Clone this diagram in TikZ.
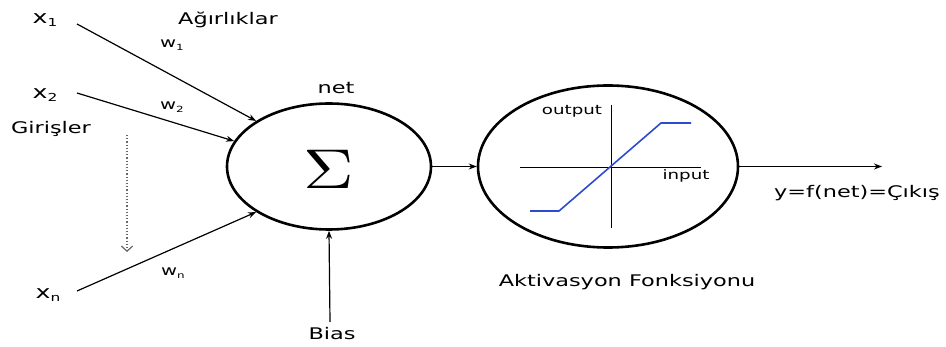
\documentclass[tikz,border=0pt]{standalone}
\usepackage{fontspec}
\setmainfont{DejaVu Sans}[FakeStretch=1.4]
\usetikzlibrary{arrows.meta,shapes.geometric}
\definecolor{curveblue}{RGB}{45,75,205}
\newcommand{\mysub}[1]{{\fontsize{11}{11}\selectfont\raisebox{-3.5pt}{#1}}}
\newcommand{\mysmallsub}[1]{{\fontsize{8.5}{8.5}\selectfont\raisebox{-2.5pt}{#1}}}
\begin{document}
\begin{tikzpicture}[x=1pt,y=-1pt,
  lbl/.style={inner sep=0pt,font=\fontsize{16}{18}\selectfont},
  xlbl/.style={inner sep=0pt,font=\fontsize{18}{20}\selectfont},
  wlbl/.style={inner sep=0pt,font=\fontsize{14}{16}\selectfont},
  axlbl/.style={inner sep=0pt,font=\fontsize{13}{15}\selectfont},
  unit/.style={draw,ellipse,line width=2.6pt,inner sep=0pt},
  conn/.style={line width=1.2pt,-{Stealth[length=8pt,width=6pt]}},
  axis/.style={line width=0.9pt},
  curve/.style={line width=1.6pt,curveblue}]
\useasboundingbox (0,0) rectangle (946,347);
% units
\node[unit,minimum width=204pt,minimum height=126pt] (sum) at (329,166.5) {};
\node (sigma) at (329,169) {\scalebox{7.0}[5.6]{$\Sigma$}};
\node[unit,minimum width=260pt,minimum height=162pt] (act) at (608,166.5) {};
% inputs
\node[xlbl] (x1) at (45,20) {x\mysub{1}};
\node[xlbl] (x2) at (45,95) {x\mysub{2}};
\node[xlbl] (xn) at (48,295) {x\mysub{n}};
\coordinate (s1) at (77,24);
\coordinate (s2) at (77,93);
\coordinate (sn) at (77,291);
\draw[conn] (s1) -- (sum.148.6);
\draw[conn] (s2) -- (sum.165.7);
\draw[conn] (sn) -- (sum.212.6);
\node[wlbl] (w1) at (172,45) {w\mysmallsub{1}};
\node[wlbl] (w2) at (172,107) {w\mysmallsub{2}};
\node[wlbl] (wn) at (173,273) {w\mysmallsub{n}};
\node[lbl] (agir) at (228,20) {Ağırlıklar};
\node[lbl] (giris) at (51,129) {Girişler};
% dotted arrow
\coordinate (d1) at (127,135);
\coordinate (d2) at (127,252);
\draw[black!60,dotted,line width=1.2pt,-{Straight Barb[length=5pt,width=11pt,line width=1.2pt,line cap=round,sep=0pt]}] (d1) -- (d2);
% net and bias
\node[lbl] (net) at (336,88) {net};
\node[lbl] (bias) at (332,334) {Bias};
\coordinate (b1) at (330,322);
\draw[conn] (b1) -- (sum.south);
% sum to activation
\draw[conn] (sum.east) -- (act.west);
% output
\coordinate (out) at (882,166.5);
\draw[conn] (act.east) -- (out);
\node[lbl] (y) at (857,193) {y=f(net)=Çıkış};
\node[lbl] (aktiv) at (627,282) {Aktivasyon Fonksiyonu};
% graph inside activation
\draw[axis] (520,167) -- (701,167);
\draw[axis] (611,105) -- (611,228);
\draw[curve] (530,211) -- (559,211) -- (661,123) -- (691,123);
\node[axlbl] (outp) at (572,111) {output};
\node[axlbl] (inp) at (686,176) {input};
\end{tikzpicture}
\end{document}
